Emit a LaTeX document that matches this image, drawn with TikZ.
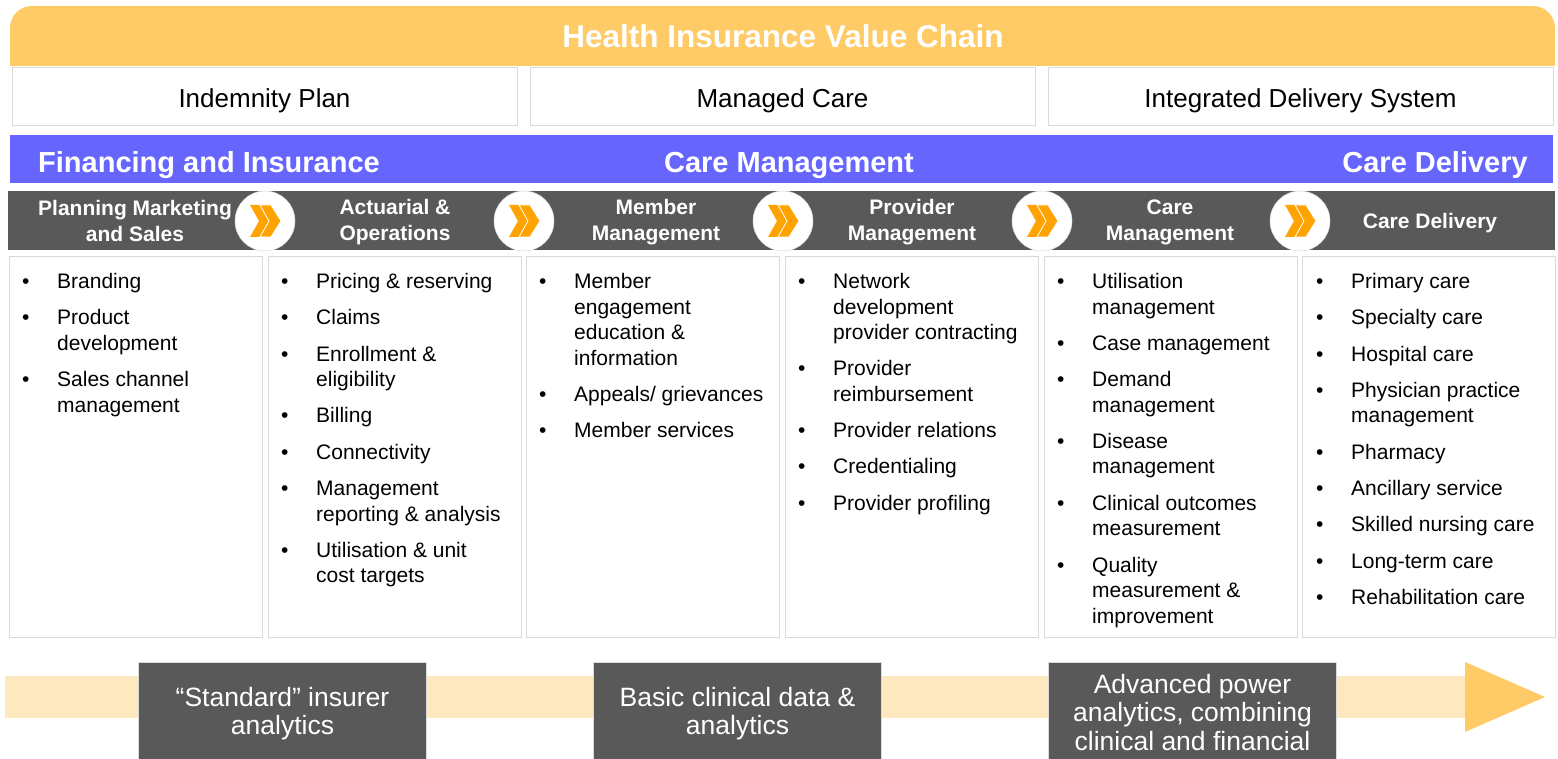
\documentclass[tikz,border=0pt]{standalone}
\usepackage{fontspec}
\setmainfont{Liberation Sans}

\definecolor{chainyellow}{HTML}{FECB67}
\definecolor{bandyellow}{HTML}{FEE8BF}
\definecolor{segblue}{HTML}{6666FF}
\definecolor{darkgray}{HTML}{595959}
\definecolor{boxline}{HTML}{DADADA}
\definecolor{chevorange}{HTML}{FFA300}

% bullet list for one column of the chain
\newcommand{\collist}[1]{\begin{tabular}{@{}p{35pt}@{}l@{}}#1\end{tabular}}

\tikzset{
    planbox/.style={draw=boxline, line width=1pt, fill=white, minimum width=505pt, minimum height=58pt, inner sep=0pt},
    plantext/.style={font=\fontsize{26}{28}\selectfont, yshift=-4pt},
    colbox/.style={draw=boxline, line width=1pt, fill=white},
    headtext/.style={text=white, font=\fontsize{21}{26}\selectfont\bfseries, align=center, inner sep=0pt},
    segtext/.style={text=white, font=\fontsize{29}{32}\selectfont\bfseries, inner sep=0pt},
    listtext/.style={font=\fontsize{21}{25.5}\selectfont, anchor=north west, inner sep=0pt},
    stagebox/.style={fill=darkgray, draw=boxline, line width=0.6pt, minimum width=288pt, minimum height=97pt, inner sep=0pt},
    stagetext/.style={text=white, align=center, font=\fontsize{26.5}{28.5}\selectfont, yshift=-3pt}
}

\begin{document}
\begin{tikzpicture}[x=1pt, y=-1pt]
    \useasboundingbox (0,0) rectangle (1558,759);

    % Title bar with rounded top corners
    \fill[chainyellow, rounded corners=22pt] (10,6) rectangle (1555,66);
    \fill[chainyellow] (10,35) rectangle (1555,66);
    \node[text=white, font=\fontsize{31.5}{34}\selectfont\bfseries] (title) at (783,36) {Health Insurance Value Chain};

    % Three plan types
    \node[planbox, label={[plantext]center:Indemnity Plan}] (plan1) at (264.5,97) {};
    \node[planbox, label={[plantext]center:Managed Care}] (plan2) at (782.5,97) {};
    \node[planbox, label={[plantext]center:Integrated Delivery System}] (plan3) at (1300.5,97) {};

    % Segment band
    \fill[segblue] (10,135) rectangle (1553,183);
    \node[segtext, anchor=west] (seg1) at (38,165) {Financing and Insurance};
    \node[segtext] (seg2) at (789,165) {Care Management};
    \node[segtext, anchor=east] (seg3) at (1528,165) {Care Delivery};

    % Step headers
    \fill[darkgray] (8,191) rectangle (1555,250);
    \node[headtext] (head1) at (135,220.5) {Planning Marketing\\and Sales};
    \node[headtext] (head2) at (395,222.5) {Actuarial \&\\Operations};
    \node[headtext] (head3) at (656,222.5) {Member\\Management};
    \node[headtext] (head4) at (912,222.5) {Provider\\Management};
    \node[headtext] (head5) at (1170,222.5) {Care\\Management};
    \node[headtext] (head6) at (1430,223) {Care Delivery};

    % Double chevrons between the steps
    \foreach \cx [count=\i] in {265,524,783,1042,1300} {
        \node[circle, fill=white, draw=boxline, line width=0.5pt, minimum size=60pt, inner sep=0pt] (chev\i) at (\cx,221) {};
        \fill[chevorange] (\cx-15,205) -- (\cx-4,205) -- (\cx+5,221) -- (\cx-4,237) -- (\cx-15,237) -- (\cx-6,221) -- cycle;
        \filldraw[chevorange, draw=white, line width=0.8pt] (\cx-5,205) -- (\cx+6,205) -- (\cx+16,221) -- (\cx+6,237) -- (\cx-5,237) -- (\cx+4,221) -- cycle;
    }

    % Activity columns
    \foreach \x [count=\i] in {9,268,526,785,1044,1302} {
        \draw[colbox] (\x,257) rectangle ++(253,380);
    }
    \node[listtext] (col1) at (22,270.5) {\collist{
        \textbullet & Branding\\[10.8pt]
        \textbullet & Product\\ & development\\[10.8pt]
        \textbullet & Sales channel\\ & management}};
    \node[listtext] (col2) at (281,270.5) {\collist{
        \textbullet & Pricing \& reserving\\[10.8pt]
        \textbullet & Claims\\[10.8pt]
        \textbullet & Enrollment \&\\ & eligibility\\[10.8pt]
        \textbullet & Billing\\[10.8pt]
        \textbullet & Connectivity\\[10.8pt]
        \textbullet & Management\\ & reporting \& analysis\\[10.8pt]
        \textbullet & Utilisation \& unit\\ & cost targets}};
    \node[listtext] (col3) at (539,270.5) {\collist{
        \textbullet & Member\\ & engagement\\ & education \&\\ & information\\[10.8pt]
        \textbullet & Appeals/ grievances\\[10.8pt]
        \textbullet & Member services}};
    \node[listtext] (col4) at (798,270.5) {\collist{
        \textbullet & Network\\ & development\\ & provider contracting\\[10.8pt]
        \textbullet & Provider\\ & reimbursement\\[10.8pt]
        \textbullet & Provider relations\\[10.8pt]
        \textbullet & Credentialing\\[10.8pt]
        \textbullet & Provider profiling}};
    \node[listtext] (col5) at (1057,270.5) {\collist{
        \textbullet & Utilisation\\ & management\\[10.8pt]
        \textbullet & Case management\\[10.8pt]
        \textbullet & Demand\\ & management\\[10.8pt]
        \textbullet & Disease\\ & management\\[10.8pt]
        \textbullet & Clinical outcomes\\ & measurement\\[10.8pt]
        \textbullet & Quality\\ & measurement \&\\ & improvement}};
    \node[listtext] (col6) at (1316,270.5) {\collist{
        \textbullet & Primary care\\[10.8pt]
        \textbullet & Specialty care\\[10.8pt]
        \textbullet & Hospital care\\[10.8pt]
        \textbullet & Physician practice\\ & management\\[10.8pt]
        \textbullet & Pharmacy\\[10.8pt]
        \textbullet & Ancillary service\\[10.8pt]
        \textbullet & Skilled nursing care\\[10.8pt]
        \textbullet & Long-term care\\[10.8pt]
        \textbullet & Rehabilitation care}};

    % Analytics maturity arrow
    \fill[bandyellow] (5,676) rectangle (1465,718);
    \fill[chainyellow] (1465,662) -- (1545,697) -- (1465,732) -- cycle;
    \node[stagebox, label={[stagetext]center:{``Standard'' insurer\\analytics}}] (stage1) at (282.5,710.5) {};
    \node[stagebox, label={[stagetext]center:{Basic clinical data \&\\analytics}}] (stage2) at (737.5,710.5) {};
    \node[stagebox, label={[stagetext, yshift=1pt]center:{Advanced power\\analytics, combining\\clinical and financial}}] (stage3) at (1192.5,710.5) {};
\end{tikzpicture}
\end{document}
